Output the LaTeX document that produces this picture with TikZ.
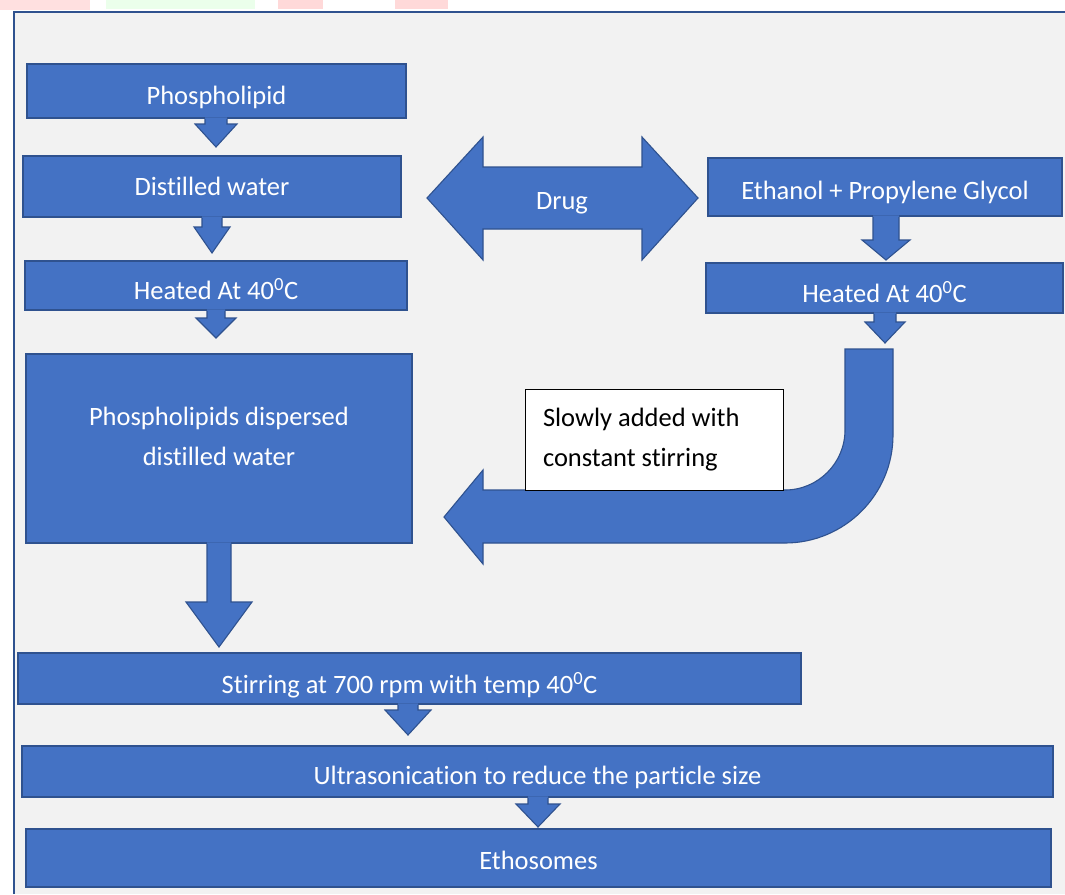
\documentclass[tikz,border=0pt]{standalone}
\usepackage{fontspec}
\setmainfont{Carlito}[Ligatures=NoCommon]
\usetikzlibrary{calc}
\definecolor{blu}{HTML}{4472C4}
\definecolor{bord}{HTML}{2F528F}
\definecolor{bg}{HTML}{F2F2F2}
\newcommand\lowered[2]{\raisebox{-#1}[\height][\depth]{#2}}
\newcommand\bdarrow[5]{%
  \fill[blu] let \p1=(#1), \p2=(#2) in
    (\x2-#3,\y1+1.5pt) -- (\x2-#3,\y2+#5) -- (\x2-#4,\y2+#5) -- (\x2,\y2) --
    (\x2+#4,\y2+#5) -- (\x2+#3,\y2+#5) -- (\x2+#3,\y1+1.5pt) -- cycle;
  \draw[bord, line width=1.1pt, line join=miter] let \p1=(#1), \p2=(#2) in
    (\x2-#3,\y1) -- (\x2-#3,\y2+#5) -- (\x2-#4,\y2+#5) -- (\x2,\y2) --
    (\x2+#4,\y2+#5) -- (\x2+#3,\y2+#5) -- (\x2+#3,\y1);}
\begin{document}
\begin{tikzpicture}[x=1pt,y=-1pt,
  box/.style={draw=bord, fill=blu, line width=1.5pt, text=white, inner sep=0pt,
    align=center, font=\fontsize{26.5}{40}\selectfont},
  blockshape/.style={fill=blu, draw=bord, line width=1.1pt, line join=miter},
  note/.style={draw=black, fill=white, line width=0.8pt, inner xsep=18pt, inner ysep=0pt,
    align=flush left, font=\fontsize{26.5}{40}\selectfont, text=black}]
\useasboundingbox (0,0) rectangle (1065,894);
\fill[white] (0,0) rectangle (1065,894);
% faint watermark remnants at top
\fill[red!12] (0,0) rectangle (90,10);
\fill[green!8] (106,0) rectangle (255,9);
\fill[red!15] (278,0) rectangle (323,9);
\fill[red!15] (395,0) rectangle (448,9);
% frame
\fill[bg] (14,12) rectangle (1065,894);
\draw[bord, line width=2pt] (14,894) -- (14,12) -- (1065,12);

% left column
\node[box, minimum width=379, minimum height=54] (phos) at (216.5,91) {\lowered{6pt}{Phospholipid}};
\node[box, minimum width=378, minimum height=61] (dist) at (212,186.5) {Distilled water};
\node[box, minimum width=382, minimum height=49] (heatA) at (216,285.5) {\lowered{4pt}{Heated At 40\textsuperscript{0}C}};
\node[box, minimum width=386, minimum height=189] (disp) at (219,448.5)
  {\raisebox{11pt}[\height][\depth]{\begin{tabular}{@{}c@{}}Phospholipids dispersed\\distilled water\end{tabular}}};
% bottom rows
\node[box, minimum width=783, minimum height=51] (stir) at (409.5,678.5) {\lowered{7pt}{Stirring at 700 rpm with temp 40\textsuperscript{0}C}};
\node[box, minimum width=1031, minimum height=51] (ultra) at (537.5,771.5) {\lowered{6pt}{Ultrasonication to reduce the particle size}};
\node[box, minimum width=1025, minimum height=58] (etho) at (538.5,858) {\lowered{2pt}{Ethosomes}};
% right column
\node[box, minimum width=354, minimum height=58] (eth) at (885,187) {\lowered{5pt}{Ethanol + Propylene Glycol}};
\node[box, minimum width=357, minimum height=50] (heatB) at (884.5,288) {\lowered{4pt}{Heated At 40\textsuperscript{0}C}};

% tips of the block arrows
\coordinate (t1) at (216,147);
\coordinate (t2) at (212,253);
\coordinate (t3) at (216,338);
\coordinate (t4) at (219,647);
\coordinate (t5) at (408,735);
\coordinate (t6) at (538,827);
\coordinate (t7) at (886,260);
\coordinate (t8) at (885,343);

\bdarrow{phos.south}{t1}{11pt}{21pt}{23pt}
\bdarrow{dist.south}{t2}{10pt}{18pt}{26pt}
\bdarrow{heatA.south}{t3}{9pt}{20pt}{20pt}
\bdarrow{disp.south}{t4}{12pt}{33pt}{45pt}
\bdarrow{stir.south}{t5}{10pt}{23pt}{25pt}
\bdarrow{ultra.south}{t6}{10pt}{22pt}{23pt}
\bdarrow{eth.south}{t7}{13pt}{24pt}{20pt}
\bdarrow{heatB.south}{t8}{11pt}{20pt}{21pt}

% double arrow "Drug"
\path[blockshape] (427,198) -- (483,137) -- (483,167) -- (642,167) -- (642,137) -- (698,198)
  -- (642,260) -- (642,229) -- (483,229) -- (483,260) -- cycle;
\node[text=white, font=\fontsize{26.5}{40}\selectfont] (drug) at (562,200) {\lowered{3pt}{Drug}};

% curved arrow
\path[blockshape] (845,349) -- (893,349) -- (893,435)
  .. controls (893,494.6) and (844.6,543) .. (785,543)
  -- (483,543) -- (483,564) -- (444,517) -- (483,470) -- (483,490) -- (785,490)
  .. controls (818.1,490) and (845,463.1) .. (845,430) -- cycle;

% note
\node[note, minimum width=258, minimum height=101, text width=222] (slow) at (654,439.5)
  {Slowly added with\\constant stirring};
\end{tikzpicture}
\end{document}
